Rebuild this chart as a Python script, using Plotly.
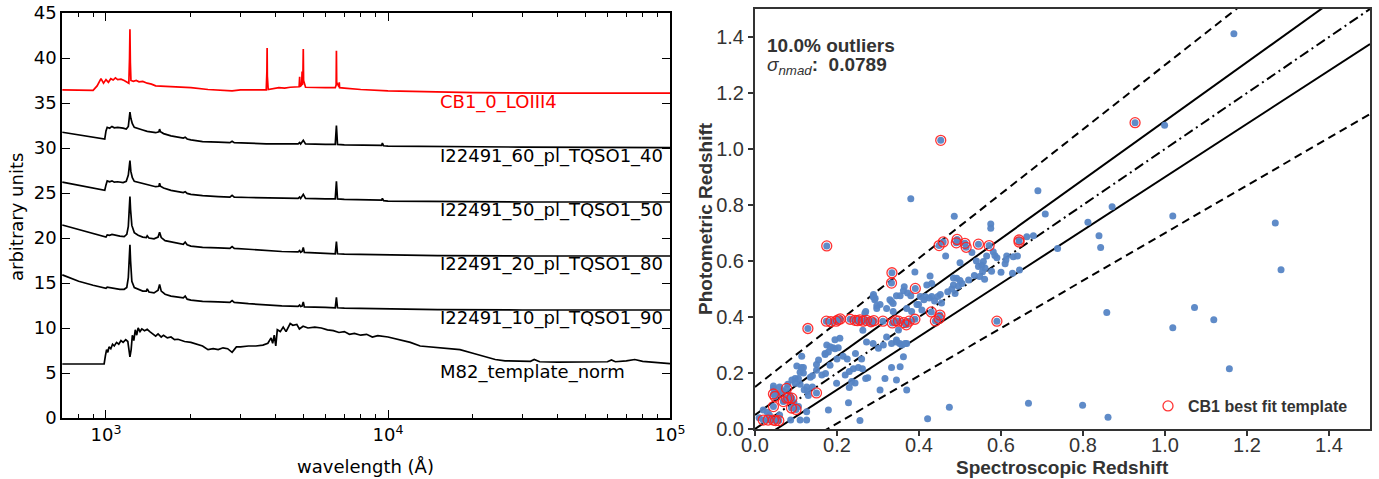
import math
import plotly.graph_objects as go

W, H = 1379, 479

# ---------------- left panel: template spectra ----------------
cb1_wave = [700, 900, 930, 960, 980, 1000, 1020, 1040, 1060, 1080, 1100, 1130, 1160, 1190, 1205, 1212, 1216, 1220, 1226,
            1250, 1280, 1310, 1350, 1400, 1450, 1500, 1600, 1800, 2000, 2300, 2600, 2800, 3000, 3400, 3700, 3720, 3727,
            3734, 3760, 3900, 4100, 4300, 4500, 4840, 4861, 4880, 4940, 4959, 4975, 4995, 5007, 5020, 5100, 5500, 6000,
            6500, 6548, 6563, 6578, 6700, 6717, 6735, 7000, 8000, 10000, 15000, 20000, 40000, 100000]
cb1_flux = [36.45, 36.4, 36.9, 37.7, 37.2, 37.6, 37.3, 37.7, 37.55, 37.8, 37.6, 37.65, 37.5, 37.3, 37.2, 40.0, 43.2, 39.5,
            37.5, 37.4, 37.5, 37.35, 37.4, 37.2, 37.1, 36.9, 36.85, 36.8, 36.7, 36.5, 36.45, 36.35, 36.45, 36.45, 36.45,
            38.5, 41.1, 38.0, 36.5, 36.55, 36.7, 36.65, 36.75, 36.8, 37.9, 36.8, 37.0, 38.5, 37.0, 38.5, 41.0, 37.5, 36.75,
            36.7, 36.7, 36.7, 37.0, 40.8, 37.3, 36.8, 37.3, 36.7, 36.65, 36.5, 36.35, 36.2, 36.15, 36.1, 36.1]

qso_wave = [700, 800, 900, 990, 1000, 1010, 1030, 1050, 1070, 1100, 1150, 1180, 1200, 1210, 1216, 1225, 1240, 1260, 1300,
            1350, 1400, 1450, 1500, 1540, 1549, 1560, 1600, 1700, 1800, 1880, 1909, 1940, 2000, 2200, 2500, 2750, 2800,
            2850, 3200, 3700, 4200, 4800, 4861, 4900, 5007, 5100, 6000, 6500, 6563, 6620, 7000, 9000, 9500, 9550, 9650,
            10000, 15000, 30000, 100000]
q60_flux = [31.75, 31.45, 31.2, 31.0, 31.9, 32.3, 32.2, 32.4, 32.25, 32.3, 32.2, 32.1, 32.4, 33.2, 34.0, 33.3, 32.7, 32.3,
            32.2, 32.0, 31.85, 31.8, 31.7, 31.8, 32.1, 31.8, 31.6, 31.35, 31.2, 31.1, 31.2, 31.0, 30.9, 30.7, 30.65, 30.6,
            30.75, 30.6, 30.55, 30.45, 30.45, 30.45, 30.6, 30.45, 30.85, 30.45, 30.4, 30.4, 32.5, 30.4, 30.35, 30.3, 30.3,
            30.55, 30.25, 30.2, 30.15, 30.1, 30.05]
q50_flux = [26.2, 25.85, 25.55, 25.3, 25.9, 26.35, 26.25, 26.35, 26.2, 26.25, 26.15, 26.3, 27.0, 27.9, 28.6, 27.4, 26.7,
            26.3, 26.2, 26.0, 25.9, 25.8, 25.7, 25.75, 26.1, 25.75, 25.55, 25.3, 25.15, 25.05, 25.15, 24.95, 24.85, 24.7,
            24.6, 24.55, 24.75, 24.55, 24.5, 24.45, 24.4, 24.4, 24.55, 24.4, 24.85, 24.4, 24.35, 24.35, 26.3, 24.35, 24.3,
            24.2, 24.2, 24.4, 24.15, 24.1, 24.05, 24.0, 24.0]

qso2_wave = [700, 800, 900, 990, 1000, 1010, 1030, 1050, 1080, 1120, 1160, 1185, 1200, 1210, 1216, 1222, 1235, 1260, 1300,
             1350, 1390, 1400, 1420, 1480, 1530, 1549, 1570, 1620, 1700, 1800, 1880, 1909, 1940, 2000, 2200, 2500, 2750,
             2800, 2850, 3200, 3700, 4200, 4800, 4861, 4900, 4960, 5007, 5050, 6000, 6500, 6563, 6620, 7000, 9000, 10000,
             15000, 30000, 100000]
q20_flux = [21.45, 20.95, 20.5, 20.1, 20.1, 20.35, 20.3, 20.4, 20.3, 20.2, 20.15, 20.4, 21.3, 23.0, 24.6, 23.2, 21.4, 20.6,
            20.3, 20.1, 20.05, 20.25, 20.0, 19.9, 20.1, 20.65, 20.05, 19.7, 19.55, 19.4, 19.3, 19.55, 19.25, 19.1, 18.95,
            18.9, 18.85, 19.05, 18.85, 18.75, 18.6, 18.5, 18.45, 18.6, 18.4, 18.5, 18.95, 18.4, 18.3, 18.25, 19.6, 18.25,
            18.2, 18.15, 18.1, 18.05, 18.0, 18.0]
q10_flux = [15.9, 15.2, 14.75, 14.4, 14.4, 14.55, 14.5, 14.5, 14.4, 14.3, 14.3, 14.5, 15.6, 18.0, 19.25, 17.5, 15.2, 14.5,
            14.3, 14.1, 14.1, 14.35, 14.0, 13.9, 14.2, 14.85, 14.1, 13.75, 13.55, 13.4, 13.35, 13.55, 13.2, 13.1, 12.95,
            12.9, 12.85, 13.05, 12.85, 12.7, 12.55, 12.45, 12.4, 12.55, 12.4, 12.45, 12.9, 12.35, 12.3, 12.25, 13.4, 12.25,
            12.2, 12.15, 12.1, 12.05, 12.0, 12.0]

m82_wave = [700, 985, 995, 1005, 1015, 1025, 1040, 1055, 1070, 1090, 1110, 1130, 1150, 1175, 1195, 1205, 1216, 1228, 1240,
            1255, 1270, 1285, 1300, 1320, 1340, 1370, 1400, 1430, 1460, 1500, 1530, 1570, 1600, 1650, 1700, 1750, 1800,
            1900, 2000, 2100, 2200, 2300, 2400, 2500, 2600, 2700, 2800, 2900, 3000, 3200, 3400, 3600, 3750, 3850, 3900,
            3950, 4000, 4050, 4150, 4250, 4350, 4500, 4600, 4750, 4850, 5000, 5200, 5500, 5800, 6100, 6400, 6700, 7000,
            7300, 7600, 8000, 8400, 8800, 9200, 10000, 11000, 12000, 13000, 14000, 16000, 18000, 20000, 22000, 24000,
            26000, 29000, 32000, 33000, 34500, 40000, 50000, 60000, 62000, 64000, 70000, 75000, 80000, 90000, 100000]
m82_flux = [6.0, 6.0, 6.9, 7.6, 7.3, 7.9, 7.7, 8.2, 8.0, 8.4, 8.2, 8.6, 8.4, 8.7, 8.5, 7.8, 6.8, 7.6, 9.2, 8.6, 9.8, 9.2,
            10.0, 9.6, 9.9, 9.7, 9.85, 9.6, 9.4, 9.1, 9.35, 9.0, 9.2, 8.9, 9.0, 8.7, 8.75, 8.5, 8.4, 8.2, 8.0, 7.6, 7.7,
            7.6, 7.8, 7.7, 7.3, 7.9, 7.9, 8.0, 8.0, 8.1, 8.3, 8.9, 8.3, 9.2, 8.0, 9.8, 9.6, 10.1, 9.6, 10.5, 10.3, 10.4,
            9.9, 10.2, 10.0, 10.1, 10.0, 9.8, 9.7, 9.5, 9.6, 9.3, 9.4, 9.2, 9.3, 9.0, 9.15, 9.0, 8.7, 8.4, 8.0, 7.9, 7.7,
            7.6, 7.2, 6.8, 6.5, 6.35, 6.3, 6.3, 6.5, 6.25, 6.2, 6.2, 6.25, 6.45, 6.25, 6.35, 6.5, 6.3, 6.15, 6.05]

spectra = [
    ("CB1_0_LOIII4", cb1_wave, cb1_flux, "red", 36),
    ("I22491_60_pl_TQSO1_40", qso_wave, q60_flux, "black", 30),
    ("I22491_50_pl_TQSO1_50", qso_wave, q50_flux, "black", 24),
    ("I22491_20_pl_TQSO1_80", qso2_wave, q20_flux, "black", 18),
    ("I22491_10_pl_TQSO1_90", qso2_wave, q10_flux, "black", 12),
    ("M82_template_norm", m82_wave, m82_flux, "black", 6),
]
label_wave = 15000

# ---------------- right panel: photo-z vs spec-z ----------------
blue_zspec = [1.168, 0.999, 0.690, 0.380, 0.708, 0.871, 0.812, 1.019, 1.269, 0.839, 0.843, 1.283, 0.858, 1.072, 1.119,
              1.019, 1.157, 0.667, 0.799, 0.861, 0.474, 0.421, 0.256, 0.486, 0.575, 0.575, 0.738, 0.663, 0.679,
              0.465, 0.500, 0.529, 0.492, 0.484, 0.521, 0.557, 0.561, 0.577, 0.565, 0.581, 0.585, 0.590, 0.614, 0.612,
              0.630, 0.640, 0.645, 0.628, 0.553, 0.555, 0.535, 0.548, 0.560, 0.500, 0.505, 0.488, 0.484, 0.496, 0.452,
              0.455, 0.470, 0.540, 0.545, 0.600, 0.610, 0.480,
              0.427, 0.431, 0.419, 0.390, 0.364, 0.362, 0.354, 0.345, 0.372, 0.380, 0.403, 0.412, 0.415, 0.425, 0.431,
              0.446, 0.438, 0.399, 0.407, 0.382, 0.288, 0.292, 0.268, 0.297, 0.305, 0.321, 0.329, 0.333, 0.337, 0.370,
              0.395, 0.321, 0.313, 0.333, 0.345, 0.353, 0.358, 0.370, 0.288, 0.272, 0.263, 0.285, 0.301, 0.305, 0.317,
              0.333, 0.345, 0.354, 0.362, 0.366, 0.370, 0.350, 0.345, 0.337, 0.293, 0.289, 0.297, 0.270,
              0.179, 0.228, 0.199, 0.220, 0.236, 0.244, 0.240, 0.252, 0.270, 0.262, 0.275, 0.183, 0.171, 0.179, 0.195,
              0.190, 0.203, 0.207, 0.163, 0.172, 0.150, 0.155, 0.171, 0.175, 0.183, 0.195, 0.230, 0.215, 0.225, 0.245,
              0.200, 0.260, 0.230,
              0.126, 0.110, 0.087, 0.126, 0.106, 0.045, 0.045, 0.057, 0.068, 0.085, 0.098, 0.106, 0.110, 0.118, 0.126,
              0.130, 0.114, 0.098, 0.118, 0.135, 0.110, 0.090, 0.080, 0.120, 0.128, 0.140, 0.113, 0.102, 0.020, 0.010,
              0.030, 0.060, 0.070, 0.095, 0.140, 0.150, 0.060, 0.035]
blue_zphot = [1.412, 1.085, 0.851, 0.822, 0.768, 0.794, 0.738, 0.761, 0.736, 0.690, 0.648, 0.569, 0.416, 0.434, 0.390,
              0.362, 0.215, 0.092, 0.085, 0.042, 0.078, 0.037, 0.030, 0.760, 0.732, 0.717, 0.645, 0.687, 0.690,
              0.618, 0.594, 0.630, 0.538, 0.539, 0.532, 0.598, 0.575, 0.563, 0.618, 0.633, 0.620, 0.612, 0.618, 0.604,
              0.615, 0.618, 0.568, 0.556, 0.585, 0.562, 0.548, 0.545, 0.535, 0.530, 0.520, 0.484, 0.514, 0.510, 0.480,
              0.450, 0.490, 0.600, 0.580, 0.560, 0.590, 0.500,
              0.546, 0.520, 0.514, 0.561, 0.508, 0.494, 0.476, 0.476, 0.486, 0.476, 0.473, 0.462, 0.473, 0.468, 0.473,
              0.473, 0.457, 0.445, 0.425, 0.420, 0.472, 0.462, 0.413, 0.440, 0.445, 0.430, 0.462, 0.455, 0.420, 0.430,
              0.445, 0.329, 0.300, 0.305, 0.311, 0.305, 0.300, 0.305, 0.305, 0.311, 0.353, 0.378, 0.288, 0.139, 0.180,
              0.220, 0.175, 0.222, 0.258, 0.305, 0.139, 0.354, 0.318, 0.448, 0.467, 0.480, 0.430, 0.420,
              0.068, 0.094, 0.163, 0.193, 0.170, 0.164, 0.215, 0.220, 0.180, 0.215, 0.183, 0.228, 0.270, 0.275, 0.287,
              0.290, 0.290, 0.324, 0.193, 0.198, 0.230, 0.246, 0.266, 0.300, 0.294, 0.319, 0.148, 0.260, 0.250, 0.270,
              0.250, 0.250, 0.205,
              0.032, 0.032, 0.032, 0.062, 0.080, 0.154, 0.145, 0.127, 0.135, 0.120, 0.163, 0.180, 0.203, 0.220, 0.150,
              0.120, 0.260, 0.180, 0.200, 0.185, 0.160, 0.175, 0.160, 0.140, 0.135, 0.190, 0.220, 0.225, 0.068, 0.040,
              0.060, 0.050, 0.100, 0.095, 0.150, 0.210, 0.150, 0.050]

cb1_zspec = [0.927, 0.453, 0.175, 0.129, 0.644, 0.644, 0.449, 0.459, 0.493, 0.491, 0.512, 0.515, 0.545, 0.571, 0.334,
             0.333, 0.391, 0.430, 0.451, 0.449, 0.590, 0.150,
             0.174, 0.185, 0.198, 0.203, 0.208, 0.232, 0.244, 0.250, 0.256, 0.264, 0.272, 0.283, 0.290, 0.312, 0.335,
             0.343, 0.350, 0.363, 0.369, 0.376, 0.390, 0.440,
             0.020, 0.032, 0.045, 0.050, 0.058, 0.045, 0.049, 0.045, 0.069, 0.077, 0.082, 0.077, 0.089, 0.090, 0.100]
cb1_zphot = [1.094, 1.031, 0.654, 0.359, 0.668, 0.675, 0.655, 0.668, 0.677, 0.665, 0.663, 0.649, 0.660, 0.655, 0.558,
             0.521, 0.502, 0.418, 0.407, 0.395, 0.385, 0.129,
             0.385, 0.383, 0.385, 0.390, 0.393, 0.392, 0.388, 0.387, 0.390, 0.385, 0.388, 0.383, 0.387, 0.385, 0.379,
             0.387, 0.385, 0.380, 0.372, 0.385, 0.392, 0.386,
             0.032, 0.032, 0.032, 0.030, 0.030, 0.080, 0.116, 0.125, 0.098, 0.110, 0.112, 0.145, 0.075, 0.110, 0.070]

outlier_text = "10.0% outliers"
nmad_value = "0.0789"
z_grid = [0.0, 1.5]
inner_frac = 0.05
outer_frac = 0.15

fig = go.Figure()

for name, wv, fl, col, base in spectra:
    fig.add_trace(go.Scatter(x=wv, y=fl, mode="lines", line=dict(color=col, width=1.7),
                             showlegend=False, hoverinfo="skip", xaxis="x", yaxis="y"))
    fig.add_annotation(x=math.log10(label_wave), y=base - 0.9, xref="x", yref="y", text=name,
                       showarrow=False, xanchor="left", yanchor="middle",
                       font=dict(family="DejaVu Sans", size=18, color=col))


def rel(k, off):
    return [z + off * (1 + z) * k for z in z_grid]


line_defs = [(0, 0, "dashdot"), (1, inner_frac, "solid"), (-1, inner_frac, "solid"),
             (1, outer_frac, "dash"), (-1, outer_frac, "dash")]
dash_map = {"dashdot": "10px,4px,2px,4px", "solid": "solid", "dash": "8px,5px"}
for k, off, ds in line_defs:
    fig.add_trace(go.Scatter(x=z_grid, y=rel(k, off), mode="lines",
                             line=dict(color="black", width=2, dash=dash_map[ds]),
                             showlegend=False, hoverinfo="skip", xaxis="x2", yaxis="y2"))

fig.add_trace(go.Scatter(x=blue_zspec + cb1_zspec, y=blue_zphot + cb1_zphot, mode="markers",
                         marker=dict(color="rgba(86,133,197,0.95)", size=7, line=dict(width=0)),
                         showlegend=False, xaxis="x2", yaxis="y2"))
fig.add_trace(go.Scatter(x=cb1_zspec, y=cb1_zphot, mode="markers", name="<b>CB1 best fit template</b>",
                         marker=dict(symbol="circle-open", color="rgba(255,30,30,0.9)", size=10,
                                     line=dict(width=1.3, color="rgba(255,30,30,0.9)")),
                         showlegend=True, xaxis="x2", yaxis="y2"))

sans = "Liberation Sans"
dj = "DejaVu Sans"
minor_vals = [800, 900] + [m * 1000 for m in range(2, 10)] + [m * 10000 for m in range(2, 10)]

fig.update_layout(
    width=W, height=H, margin=dict(l=0, r=0, t=0, b=0),
    paper_bgcolor="white", plot_bgcolor="white",
    xaxis=dict(domain=[62 / W, 670 / W], type="log", range=[2.844, 5], showgrid=False, zeroline=False,
               automargin=False,
               showline=True, linecolor="black", linewidth=1.5, mirror="ticks", ticks="inside", ticklen=8,
               tickwidth=1, tickcolor="black", tickvals=[1000, 10000, 100000],
               ticktext=["10<sup>3</sup>", "10<sup>4</sup>", "10<sup>5</sup>"],
               tickfont=dict(family=dj, size=18, color="black"),
               minor=dict(ticks="inside", ticklen=4, tickwidth=1, tickcolor="black", tickvals=minor_vals),
               anchor="y"),
    yaxis=dict(domain=[1 - 418 / H, 1 - 13 / H], range=[0, 45], dtick=5, showgrid=False, zeroline=False,
               automargin=False,
               showline=True, linecolor="black", linewidth=1.5, mirror="ticks", ticks="inside", ticklen=8,
               tickwidth=1, tickcolor="black", tickfont=dict(family=dj, size=18, color="black"),
               anchor="x"),
    xaxis2=dict(domain=[755 / W, 1370 / W], range=[0, 1.5], dtick=0.2, tickformat=".1f", showgrid=False,
                automargin=False, ticklabelstandoff=-8,
                zeroline=False, showline=True, linecolor="#333", linewidth=2, mirror=True, ticks="outside",
                ticklen=5, tickwidth=1.5, tickcolor="#333", tickfont=dict(family=sans, size=20, color="#333"),
                anchor="y2"),
    yaxis2=dict(domain=[1 - 429 / H, 1 - 9 / H], range=[0, 1.5], dtick=0.2, tickformat=".1f", showgrid=False,
                automargin=False,
                zeroline=False, showline=True, linecolor="#333", linewidth=2, mirror=True, ticks="outside",
                ticklen=5, tickwidth=1.5, tickcolor="#333", tickfont=dict(family=sans, size=20, color="#333"),
                anchor="x2"),
    legend=dict(x=1148 / W, y=1 - 406 / H, xanchor="left", yanchor="middle", bgcolor="rgba(0,0,0,0)",
                font=dict(family=sans, size=16, color="#333"), itemwidth=30),
)

ann = [
    dict(x=366 / W, y=1 - 466 / H, text="wavelength (Å)", font=dict(family=dj, size=18, color="black")),
    dict(x=17 / W, y=1 - 217 / H, text="arbitrary units", textangle=-90,
         font=dict(family=dj, size=18, color="black")),
    dict(x=1062 / W, y=1 - 467 / H, text="<b>Spectroscopic Redshift</b>", font=dict(family=sans, size=19, color="#333")),
    dict(x=705 / W, y=1 - 219 / H, text="<b>Photometric Redshift</b>", textangle=-90,
         font=dict(family=sans, size=19, color="#333")),
]
for a in ann:
    fig.add_annotation(xref="paper", yref="paper", showarrow=False, xanchor="center", yanchor="middle", **a)

fig.add_annotation(xref="paper", yref="paper", x=765 / W, y=1 - 45 / H, xanchor="left", yanchor="middle",
                   showarrow=False, text="<b>" + outlier_text + "</b>", font=dict(family=sans, size=19, color="#333"))
fig.add_annotation(xref="paper", yref="paper", x=765 / W, y=1 - 66 / H, xanchor="left", yanchor="middle",
                   showarrow=False, text="<i>σ</i><sub><i>nmad</i></sub><b>:  " + nmad_value + "</b>",
                   font=dict(family=sans, size=19, color="#333"))

fig.write_html("out.html", config={"displayModeBar": False},
               post_script="document.body.style.margin='0';document.body.style.padding='0';")
